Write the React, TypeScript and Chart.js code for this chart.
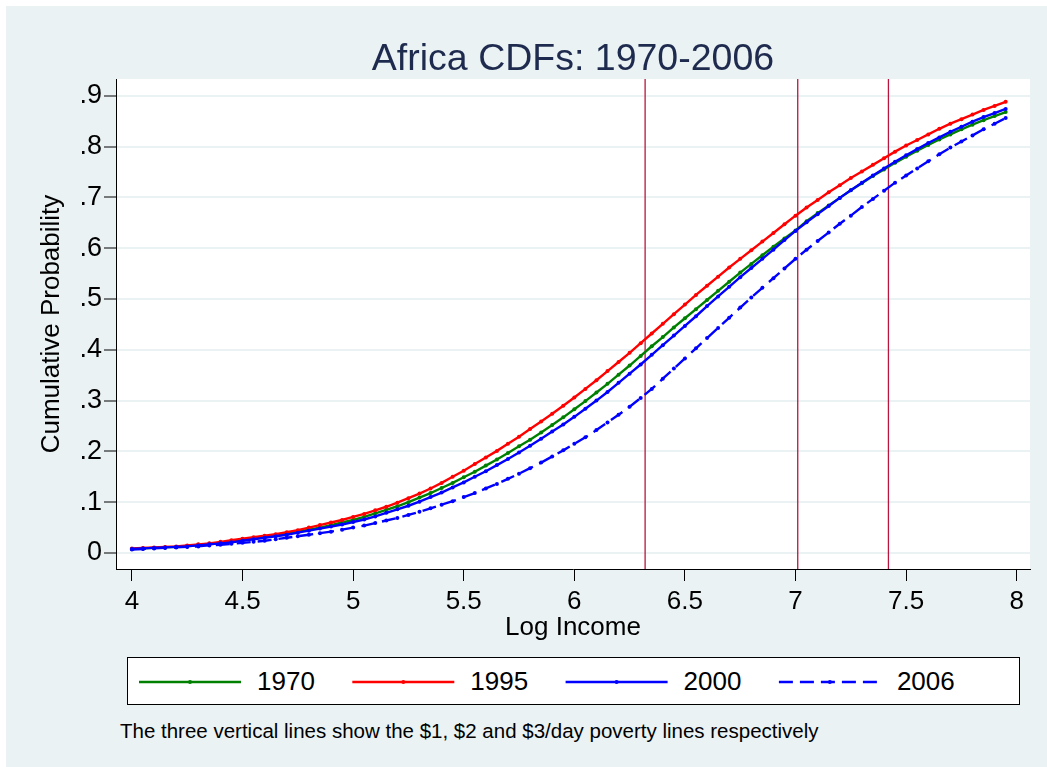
import React, { useEffect, useRef } from 'react';
import { Chart, registerables } from 'chart.js';

Chart.register(...registerables);

const logIncome = [
  4.0, 4.05, 4.1, 4.15, 4.2, 4.25, 4.3, 4.35, 4.4, 4.45,
  4.5, 4.55, 4.6, 4.65, 4.7, 4.75, 4.8, 4.85, 4.9, 4.95,
  5.0, 5.05, 5.1, 5.15, 5.2, 5.25, 5.3, 5.35, 5.4, 5.45,
  5.5, 5.55, 5.6, 5.65, 5.7, 5.75, 5.8, 5.85, 5.9, 5.95,
  6.0, 6.05, 6.1, 6.15, 6.2, 6.25, 6.3, 6.35, 6.4, 6.45,
  6.5, 6.55, 6.6, 6.65, 6.7, 6.75, 6.8, 6.85, 6.9, 6.95,
  7.0, 7.05, 7.1, 7.15, 7.2, 7.25, 7.3, 7.35, 7.4, 7.45,
  7.5, 7.55, 7.6, 7.65, 7.7, 7.75, 7.8, 7.85, 7.9, 7.95,
];

const cdf1970 = [
  0.008, 0.009, 0.010, 0.011, 0.012, 0.014, 0.016, 0.018, 0.020, 0.023,
  0.026, 0.029, 0.032, 0.035, 0.038, 0.042, 0.046, 0.050, 0.055, 0.060,
  0.065, 0.071, 0.078, 0.085, 0.092, 0.100, 0.109, 0.118, 0.128, 0.138,
  0.149, 0.160, 0.172, 0.184, 0.197, 0.210, 0.223, 0.237, 0.252, 0.267,
  0.283, 0.299, 0.316, 0.333, 0.351, 0.369, 0.388, 0.407, 0.425, 0.444,
  0.462, 0.480, 0.498, 0.516, 0.534, 0.552, 0.569, 0.586, 0.603, 0.619,
  0.635, 0.653, 0.669, 0.684, 0.699, 0.714, 0.728, 0.742, 0.755, 0.768,
  0.780, 0.792, 0.803, 0.814, 0.824, 0.834, 0.843, 0.852, 0.860, 0.868,
];

const cdf1995 = [
  0.009, 0.010, 0.011, 0.012, 0.013, 0.015, 0.017, 0.019, 0.022, 0.025,
  0.028, 0.031, 0.034, 0.037, 0.041, 0.045, 0.050, 0.055, 0.060, 0.065,
  0.071, 0.077, 0.084, 0.091, 0.099, 0.108, 0.117, 0.127, 0.138, 0.150,
  0.162, 0.175, 0.188, 0.201, 0.215, 0.229, 0.244, 0.259, 0.274, 0.290,
  0.306, 0.323, 0.340, 0.358, 0.376, 0.394, 0.413, 0.432, 0.451, 0.470,
  0.489, 0.508, 0.526, 0.544, 0.562, 0.579, 0.596, 0.613, 0.630, 0.647,
  0.664, 0.680, 0.695, 0.710, 0.724, 0.738, 0.751, 0.764, 0.777, 0.790,
  0.802, 0.813, 0.824, 0.835, 0.845, 0.854, 0.863, 0.872, 0.880, 0.888,
];

const cdf2000 = [
  0.008, 0.009, 0.010, 0.011, 0.012, 0.013, 0.015, 0.017, 0.019, 0.021,
  0.024, 0.027, 0.030, 0.033, 0.036, 0.040, 0.044, 0.048, 0.052, 0.056,
  0.061, 0.066, 0.072, 0.079, 0.086, 0.093, 0.101, 0.110, 0.119, 0.129,
  0.139, 0.150, 0.161, 0.173, 0.185, 0.198, 0.211, 0.225, 0.239, 0.253,
  0.268, 0.284, 0.300, 0.317, 0.335, 0.353, 0.371, 0.390, 0.409, 0.428,
  0.447, 0.466, 0.486, 0.505, 0.524, 0.543, 0.561, 0.579, 0.597, 0.616,
  0.634, 0.651, 0.667, 0.683, 0.699, 0.714, 0.729, 0.743, 0.757, 0.770,
  0.783, 0.795, 0.807, 0.818, 0.829, 0.839, 0.849, 0.858, 0.866, 0.874,
];

const cdf2006 = [
  0.007, 0.008, 0.009, 0.010, 0.011, 0.012, 0.013, 0.015, 0.016, 0.018,
  0.020, 0.022, 0.024, 0.027, 0.030, 0.033, 0.036, 0.039, 0.042, 0.046,
  0.050, 0.054, 0.059, 0.064, 0.069, 0.075, 0.081, 0.088, 0.095, 0.102,
  0.110, 0.118, 0.127, 0.136, 0.146, 0.156, 0.167, 0.178, 0.190, 0.202,
  0.215, 0.228, 0.242, 0.257, 0.272, 0.288, 0.305, 0.323, 0.343, 0.363,
  0.383, 0.403, 0.423, 0.443, 0.463, 0.483, 0.503, 0.522, 0.541, 0.560,
  0.579, 0.597, 0.614, 0.631, 0.648, 0.664, 0.681, 0.697, 0.713, 0.729,
  0.743, 0.757, 0.771, 0.785, 0.798, 0.810, 0.822, 0.834, 0.845, 0.856,
];

const seriesLabels = ['1970', '1995', '2000', '2006'];
const povertyLines = [6.32, 7.01, 7.42];

const xTickValues = [4, 4.5, 5, 5.5, 6, 6.5, 7, 7.5, 8];
const xTickLabels = ['4', '4.5', '5', '5.5', '6', '6.5', '7', '7.5', '8'];
const yTickValues = [0, 0.1, 0.2, 0.3, 0.4, 0.5, 0.6, 0.7, 0.8, 0.9];
const yTickLabels = ['0', '.1', '.2', '.3', '.4', '.5', '.6', '.7', '.8', '.9'];

const X_MIN = 3.928;
const X_MAX = 8.06;
const Y_MIN = -0.0315;
const Y_MAX = 0.933;

const FONT = '"Liberation Sans", Arial, Helvetica, sans-serif';
const BG = '#EAF2F3';
const COLORS = ['#008000', '#FF0000', '#0000FF', '#0000FF'];
const DASHES: number[][] = [[], [], [], [14, 7]];
const VLINE = '#B8163E';

export default function App() {
  const ref = useRef<HTMLCanvasElement>(null);

  useEffect(() => {
    const canvas = ref.current;
    if (!canvas) return;
    const all = [cdf1970, cdf1995, cdf2000, cdf2006];
    const curveSets = all.map((ys, k) => ({
      type: 'line' as const,
      label: seriesLabels[k],
      data: logIncome.map((x, i) => ({ x, y: ys[i] })),
      borderColor: COLORS[k],
      backgroundColor: COLORS[k],
      borderWidth: 2.4,
      borderDash: DASHES[k],
      pointRadius: 2,
      pointBorderWidth: 0,
      pointBackgroundColor: COLORS[k],
      tension: 0,
      fill: false,
      order: 4 - k,
    }));
    const vSets = povertyLines.map((p) => ({
      type: 'line' as const,
      label: 'poverty ' + p,
      data: [
        { x: p, y: Y_MIN },
        { x: p, y: Y_MAX },
      ],
      borderColor: VLINE,
      borderWidth: 1.3,
      pointRadius: 0,
      fill: false,
      order: 10,
    }));

    const bgPlugin = {
      id: 'plotBg',
      beforeDraw(chart: any) {
        const { ctx, chartArea } = chart;
        ctx.save();
        ctx.fillStyle = '#FFFFFF';
        ctx.fillRect(chartArea.left, chartArea.top, chartArea.right - chartArea.left, chartArea.bottom - chartArea.top);
        ctx.restore();
      },
    };

    const chart = new Chart(canvas, {
      type: 'line',
      data: { datasets: [...curveSets, ...vSets] as any },
      plugins: [bgPlugin],
      options: {
        animation: false,
        responsive: false,
        devicePixelRatio: 1,
        layout: { padding: { left: 0, right: 17, top: 73, bottom: 0 } },
        plugins: {
          legend: { display: false },
          tooltip: { enabled: false },
          title: { display: false },
        },
        scales: {
          x: {
            type: 'linear',
            min: X_MIN,
            max: X_MAX,
            afterFit(scale: any) {
              scale.height = 80;
            },
            afterBuildTicks(scale: any) {
              scale.ticks = xTickValues.map((value) => ({ value }));
            },
            ticks: {
              autoSkip: false,
              maxRotation: 0,
              padding: 5,
              color: '#000',
              font: { family: FONT, size: 26 },
              callback: (_v: any, i: number) => xTickLabels[i],
            },
            grid: {
              drawOnChartArea: false,
              color: '#000',
              tickColor: '#000',
              tickLength: 12,
              tickWidth: 1,
            },
            border: { display: true, color: '#000', width: 1 },
            title: {
              display: true,
              text: 'Log Income',
              color: '#000',
              font: { family: FONT, size: 26 },
              padding: { top: 0, bottom: 6 },
            },
          },
          y: {
            type: 'linear',
            min: Y_MIN,
            max: Y_MAX,
            afterFit(scale: any) {
              scale.width = 110;
            },
            afterBuildTicks(scale: any) {
              scale.ticks = yTickValues.map((value) => ({ value }));
            },
            ticks: {
              autoSkip: false,
              padding: 2,
              color: '#000',
              font: { family: FONT, size: 27 },
              callback: (_v: any, i: number) => yTickLabels[i],
            },
            grid: {
              color: BG,
              lineWidth: 2,
              tickColor: '#000',
              tickLength: 12,
              tickWidth: 1,
            },
            border: { display: true, color: '#000', width: 1 },
            title: {
              display: true,
              text: 'Cumulative Probability',
              color: '#000',
              font: { family: FONT, size: 26 },
              padding: { top: 30, bottom: 0 },
            },
          },
        },
      },
    });
    return () => chart.destroy();
  }, []);

  const itemStep = 213.3;

  return (
    <div style={{ position: 'fixed', left: 0, top: 0, width: 1047, height: 767, background: '#FFFFFF', overflow: 'hidden' }}>
      <div style={{ position: 'absolute', left: 6, top: 6, width: 1041, height: 761, background: BG, fontFamily: FONT }}>
        <canvas ref={ref} width={1041} height={643} style={{ position: 'absolute', left: 0, top: 0, width: 1041, height: 643 }} />
        <div
          style={{
            position: 'absolute',
            left: 110,
            width: 914,
            top: 32,
            textAlign: 'center',
            fontSize: 37.5,
            lineHeight: '38px',
            color: '#1E2B4E',
            whiteSpace: 'nowrap',
          }}
        >
          Africa CDFs: 1970-2006
        </div>
        <div
          style={{
            position: 'absolute',
            left: 121,
            top: 651,
            width: 893,
            height: 48,
            boxSizing: 'border-box',
            border: '1px solid #000',
            background: '#FFFFFF',
          }}
        >
          <svg width={891} height={46} style={{ position: 'absolute', left: 0, top: 0 }}>
            {seriesLabels.map((lab, k) => {
              const x0 = 11 + itemStep * k;
              const x1 = x0 + 102;
              return (
                <g key={lab}>
                  <line
                    x1={x0}
                    y1={24}
                    x2={x1}
                    y2={24}
                    stroke={COLORS[k]}
                    strokeWidth={2.4}
                    strokeDasharray={DASHES[k].length ? DASHES[k].join(' ') : undefined}
                  />
                  <circle cx={(x0 + x1) / 2} cy={24} r={2} fill={COLORS[k]} />
                </g>
              );
            })}
          </svg>
          {seriesLabels.map((lab, k) => (
            <span
              key={lab}
              style={{
                position: 'absolute',
                left: 129 + itemStep * k,
                top: 0,
                lineHeight: '46px',
                fontSize: 26,
                color: '#000',
                whiteSpace: 'nowrap',
              }}
            >
              {lab}
            </span>
          ))}
        </div>
        <div
          style={{
            position: 'absolute',
            left: 114,
            top: 714,
            fontSize: 20.5,
            lineHeight: '21px',
            color: '#000',
            whiteSpace: 'nowrap',
          }}
        >
          The three vertical lines show the $1, $2 and $3/day poverty lines respectively
        </div>
      </div>
    </div>
  );
}
